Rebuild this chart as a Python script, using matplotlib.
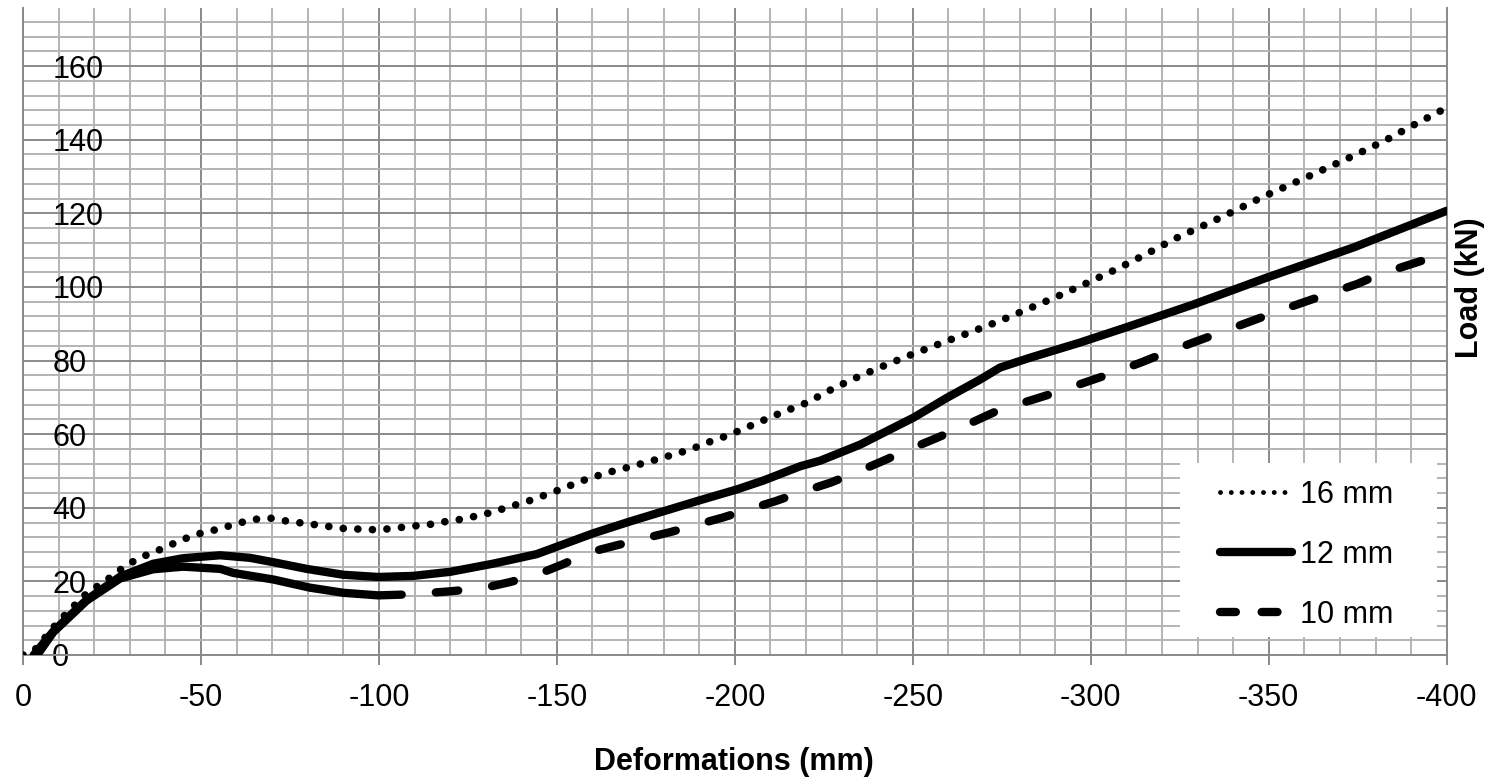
import matplotlib
matplotlib.use("Agg")
import matplotlib.pyplot as plt
from matplotlib.ticker import MultipleLocator, FixedLocator, FixedFormatter
from matplotlib.patches import Rectangle
import numpy as np

plt.rcParams['font.family'] = ['Liberation Sans', 'DejaVu Sans']
plt.rcParams['axes.unicode_minus'] = False

# ---- data ----
x16 = [0, -3, -6, -9, -12.3, -17.4, -22.1, -24.9, -29.1, -34.3, -39.4, -44.6, -49.7, -54.4,
       -59.1, -64.3, -69.4, -74.6, -79.7, -84.6, -89.8, -94.7, -99.6, -104, -108.3, -114.4,
       -119, -123.3, -129.9, -134.1, -142.5, -149.1, -157.3, -164, -172.4, -179, -187.4,
       -193.9, -198.2, -204.7, -212.7, -220.1, -227.8, -235.1, -242.9, -249.8, -257.9,
       -265.9, -274.5, -282.8, -291, -299, -307.8, -315.7, -323.4, -336.6, -348.6, -362.2,
       -374.6, -382.7, -390.5, -400]
y16 = [0, 1, 4.5, 8, 11.4, 16.3, 19.5, 21.3, 24.5, 27, 29, 31.3, 33, 34.1,
       35.4, 36.8, 37.2, 36.3, 35.7, 35.1, 34.4, 34.2, 34.0, 34.4, 34.9, 35.5,
       36.3, 36.9, 38.3, 39.5, 42.0, 44.3, 47.4, 49.5, 51.6, 53.4, 55.8,
       58.3, 59.7, 62.4, 65.7, 68.5, 72.5, 75.8, 79, 81.7, 84.7,
       87.6, 90.8, 94.2, 97.6, 101.1, 105.1, 109, 113, 118.9, 124.6, 130.5,
       136, 139.8, 143.9, 148.7]

x12 = [-3, -8.5, -17.9, -27.3, -36.6, -45, -55.4, -63.8, -70.4, -79.7, -90, -99.8, -109.7,
       -120, -132, -144.3, -160.3, -170.6, -189.3, -200.6, -208, -218.4, -224, -235.3,
       -241.8, -250.2, -259.6, -269, -274.5, -283, -297, -311.1, -329, -349.6, -374, -400]
y12 = [0, 6.4, 15, 21.3, 24.8, 26.3, 27.1, 26.4, 25.2, 23.4, 21.8, 21.2, 21.5,
       22.6, 24.8, 27.4, 33.1, 36.3, 41.8, 45, 47.4, 51.3, 52.8, 57.2,
       60.4, 64.5, 69.9, 74.9, 78.1, 80.8, 84.9, 89.4, 95.3, 102.6, 110.8, 120.7]

x10 = [-4, -8.5, -17.9, -27.3, -36.6, -45, -55.4, -59.1, -70.4, -80.6, -90, -99.8, -106.4,
       -114.4, -120, -129.4, -136.8, -144.3, -151.8, -158.4, -166.4, -174.2, -181.9,
       -189.3, -196.8, -204.3, -211.4, -218.8, -226.8, -233.8, -241.3, -248.3, -256.3,
       -263.3, -270, -274.5, -281.8, -289.1, -296.1, -306.4, -313.9, -320.9, -349, -357,
       -363.6, -374.8, -381.4, -388.4, -395.9, -400]
y10 = [0, 6.2, 14.8, 20.8, 23.3, 24.0, 23.4, 22.3, 20.5, 18.3, 16.9, 16.2, 16.4,
       16.9, 17.3, 18.2, 19.8, 21.8, 24.7, 27.7, 29.7, 31.6, 33.4,
       35.4, 37.4, 39.7, 41.8, 44.3, 46.8, 49.5, 52.6, 55.6, 58.8,
       61.7, 64.7, 66.7, 68.8, 71, 73.3, 76.7, 79.4, 82.1, 92.1, 94.9,
       97.1, 100.8, 103.5, 105.7, 108, 109.4]
x10_solid_end = -106.4   # 10 mm curve drawn solid up to here, dashed after

labels = ['16 mm', '12 mm', '10 mm']
xticks = [0, -50, -100, -150, -200, -250, -300, -350, -400]
yticks = [0, 20, 40, 60, 80, 100, 120, 140, 160]

# ---- figure ----
W, H = 1497, 778
fig = plt.figure(figsize=(W / 100, H / 100), dpi=100)
L, R, T, B = 23, 1446.7, 8, 655
ax = fig.add_axes([L / W, 1 - B / H, (R - L) / W, (B - T) / H])
ax.set_xlim(0, -400)
ax.set_ylim(0, 175.8)

ax.xaxis.set_major_locator(FixedLocator(xticks))
ax.xaxis.set_major_formatter(FixedFormatter([str(v) for v in xticks]))
ax.yaxis.set_major_locator(FixedLocator(yticks))
ax.yaxis.set_major_formatter(FixedFormatter([str(v) for v in yticks]))
ax.xaxis.set_minor_locator(MultipleLocator(10))
ax.yaxis.set_minor_locator(MultipleLocator(4))
ax.set_axisbelow(True)
ax.grid(which='minor', color='#b4b4b4', lw=1.4)
ax.grid(which='major', color='#8a8a8a', lw=1.4)

for s in ['left', 'bottom', 'right']:
    ax.spines[s].set_color('#8a8a8a')
    ax.spines[s].set_linewidth(1.4)
ax.spines['top'].set_visible(False)

ax.tick_params(axis='x', which='major', direction='out', length=7, width=1.4,
               color='#8a8a8a', labelsize=22, pad=13)
ax.tick_params(axis='x', which='minor', length=0)
ax.tick_params(axis='y', which='both', length=0, labelsize=22, pad=-21)
for lab in ax.get_yticklabels():
    lab.set_horizontalalignment('left')

# ---- curves ----
ax.plot(x16, y16, color='black', lw=5.5, linestyle=(0, (0.01, 1.9)),
        dash_capstyle='round', label=labels[0], zorder=3)
ax.plot(x12, y12, color='black', lw=6, solid_capstyle='round',
        solid_joinstyle='round', label=labels[1], zorder=3)

x10a = np.array(x10)
y10a = np.array(y10)
m1 = x10a >= x10_solid_end
m2 = x10a <= x10_solid_end
ax.plot(x10a[m1], y10a[m1], color='black', lw=6, solid_capstyle='round',
        solid_joinstyle='round', zorder=3)
ax.plot(x10a[m2], y10a[m2], color='black', lw=6, linestyle=(2.7, (2.7, 4.1)),
        dash_capstyle='round', label=labels[2], zorder=3)

# ---- legend ----
ax.add_patch(Rectangle((1180 / W, 1 - 637 / H), (1437 - 1180) / W, (637 - 463) / H,
                       transform=fig.transFigure, facecolor='white',
                       edgecolor='none', zorder=1.5, clip_on=False))
leg = ax.legend(loc='center left', bbox_to_anchor=(1220 / W, 1 - 555 / H),
                bbox_transform=fig.transFigure, frameon=False, fontsize=22,
                handlelength=2.35, handletextpad=0.26, labelspacing=0.98,
                borderpad=0, borderaxespad=0)
hl = leg.get_lines()
hl[0].set_linewidth(3.5)
hl[0].set_linestyle((0, (0.01, 2.2)))
hl[2].set_linestyle((0, (1.9, 3.1)))

fig.text(1470 / W, 1 - 288 / H, 'Load (kN)', rotation=90, fontsize=22,
         fontweight='bold', ha='center', va='center')
fig.text(734 / W, 1 - 762 / H, 'Deformations (mm)', fontsize=22,
         fontweight='bold', ha='center', va='center')

fig.savefig('out.png', dpi=100)
